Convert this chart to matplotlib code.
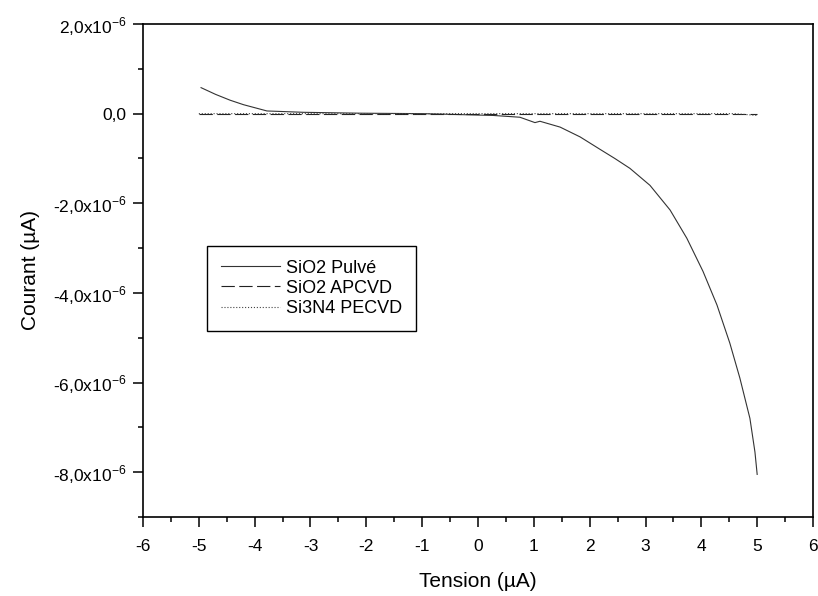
import matplotlib
matplotlib.use("Agg")
import matplotlib.pyplot as plt
from matplotlib.ticker import MultipleLocator, FuncFormatter

plt.rcParams["font.family"] = ["Liberation Sans", "DejaVu Sans"]
plt.rcParams["axes.unicode_minus"] = False

# ── data (current in A, shown as x10^-6) ────────────────────────────────────
pulve_x = [-4.96, -4.70, -4.44, -4.20, -3.90, -3.78, -3.13, -2.10, -1.0, 0.27,
           0.75, 1.02, 1.11, 1.47, 1.83, 2.19, 2.45, 2.72, 3.08, 3.44, 3.74,
           4.03, 4.28, 4.51, 4.69, 4.87, 4.96, 5.0]
pulve_y = [0.58e-6, 0.43e-6, 0.30e-6, 0.20e-6, 0.10e-6, 0.06e-6, 0.03e-6,
           0.01e-6, 0.0, -0.04e-6, -0.08e-6, -0.20e-6, -0.17e-6, -0.30e-6,
           -0.52e-6, -0.80e-6, -1.0e-6, -1.22e-6, -1.60e-6, -2.15e-6,
           -2.78e-6, -3.52e-6, -4.27e-6, -5.12e-6, -5.90e-6, -6.80e-6,
           -7.55e-6, -8.05e-6]

apcvd_x = [-5.0, 5.0]
apcvd_y = [0.0, 0.0]

si3n4_x = [-5.0, 4.6, 5.0]
si3n4_y = [0.0, 0.0, -0.04e-6]

labels = ["SiO2 Pulvé", "SiO2 APCVD", "Si3N4 PECVD"]


def fmt_y(v, pos):
    n = round(v * 1e6)
    if n == 0:
        return "0,0"
    return r"%d,0x10$^{\mathregular{-6}}$" % n


fig = plt.figure(figsize=(8.18, 5.96), dpi=100)
ax = fig.add_axes([0.1748, 0.1326, 0.8191, 0.8271])

ax.plot(pulve_x, pulve_y, color="#333333", linewidth=0.8, label=labels[0])
ax.plot(apcvd_x, apcvd_y, color="#222222", linewidth=0.8, dashes=(12, 4),
        label=labels[1])
ax.plot(si3n4_x, si3n4_y, color="#444444", linewidth=0.8, linestyle=":",
        label=labels[2])

ax.set_xlim(-6, 6)
ax.set_ylim(-9e-6, 2e-6)
ax.xaxis.set_major_locator(MultipleLocator(1))
ax.xaxis.set_minor_locator(MultipleLocator(0.5))
ax.yaxis.set_major_locator(MultipleLocator(2e-6))
ax.yaxis.set_minor_locator(MultipleLocator(1e-6))
ax.yaxis.set_major_formatter(FuncFormatter(fmt_y))

ax.tick_params(which="major", direction="out", length=7, width=1.1,
               labelsize=12.5, color="black")
ax.tick_params(axis="x", which="major", pad=9)
ax.tick_params(axis="y", which="major", pad=5)
ax.tick_params(which="minor", direction="out", length=3.5, width=1.1)
for s in ax.spines.values():
    s.set_linewidth(1.2)

ax.set_xlabel("Tension (µA)", fontsize=15, labelpad=13)
ax.set_ylabel("Courant (µA)", fontsize=15, labelpad=9)

leg = ax.legend(loc="upper left", bbox_to_anchor=(0.0955, 0.5497),
                borderaxespad=0, fontsize=13, frameon=True, fancybox=False,
                edgecolor="black", handlelength=3.3, handletextpad=0.35,
                labelspacing=0.18, borderpad=0.75)
leg.get_frame().set_linewidth(1.0)
leg.get_frame().set_alpha(1)

fig.savefig("out.png", dpi=100)
